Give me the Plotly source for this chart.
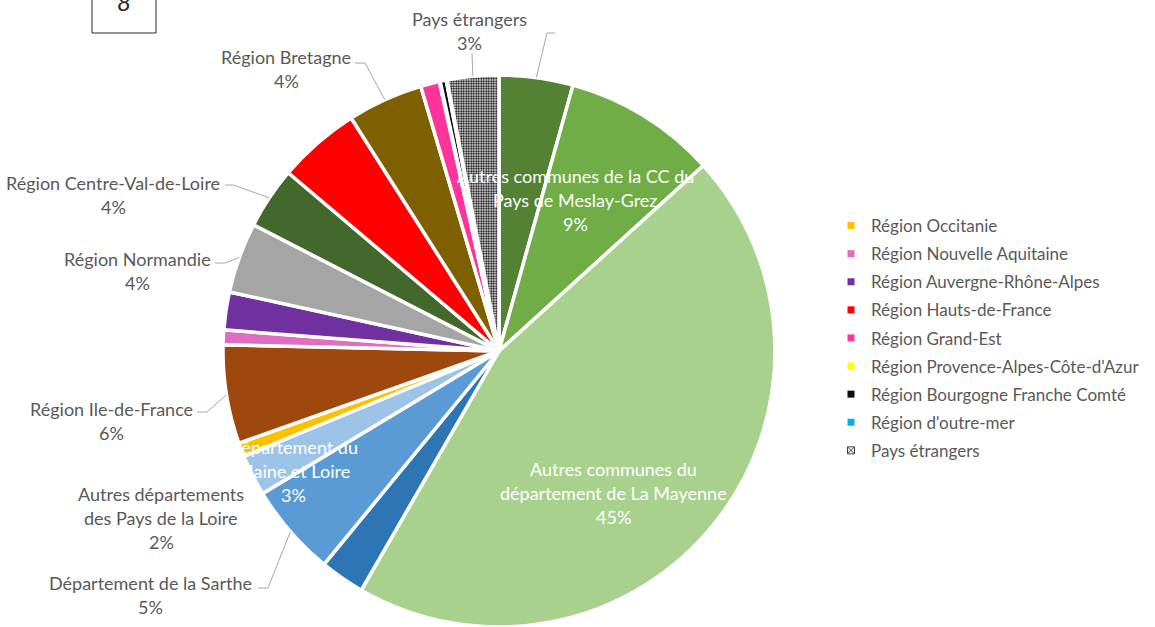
import math
import plotly.graph_objects as go

# ---- data -------------------------------------------------------------
labels = [
    "Commune",
    "Autres communes de la CC du Pays de Meslay-Grez",
    "Autres communes du département de La Mayenne",
    "Département du Maine et Loire",
    "Département de la Sarthe",
    "Autres départements des Pays de la Loire",
    "Région Occitanie",
    "Région Ile-de-France",
    "Région Nouvelle Aquitaine",
    "Région Auvergne-Rhône-Alpes",
    "Région Normandie",
    "Région Centre-Val-de-Loire",
    "Région Hauts-de-France",
    "Région Bretagne",
    "Région Grand-Est",
    "Région Provence-Alpes-Côte-d'Azur",
    "Région Bourgogne Franche Comté",
    "Région d'outre-mer",
    "Pays étrangers",
]
values = [4.3, 8.9, 44.8, 2.6, 5.4, 2.4, 0.8, 5.75, 0.86, 2.2,
          4.1, 3.6, 4.8, 4.4, 1.1, 0.05, 0.35, 0.05, 3.0]
colors = ["#548235", "#70AD47", "#A9D18E", "#2E75B6", "#5B9BD5", "#9DC3E6",
          "#FFC000", "#9E480E", "#E06EC0", "#7030A0", "#A5A5A5", "#43682B",
          "#FF0000", "#7F6000", "#FF3399", "#FFFF00", "#0D0D0D", "#00B0F0",
          "#FFFFFF"]
legend_items = [6, 8, 9, 12, 14, 15, 16, 17, 18]

# text lines of the slice labels (the percentage line is appended from the values)
label_lines = {
    1: ["Autres communes de la CC du", "Pays de Meslay-Grez"],
    2: ["Autres communes du", "département de La Mayenne"],
    3: ["Département du", "Maine et Loire"],
    4: ["Département de la Sarthe"],
    5: ["Autres départements", "des Pays de la Loire"],
    7: ["Région Ile-de-France"],
    10: ["Région Normandie"],
    11: ["Région Centre-Val-de-Loire"],
    13: ["Région Bretagne"],
    18: ["Pays étrangers"],
}
inside = {1, 2, 3}

# ---- geometry ---------------------------------------------------------
W, H = 1155, 627
MT = 75
PH = H - MT
CX, CY, R = 499.0, MT + PH / 2.0, PH / 2.0


def px(x):
    return x / W


def py(y):
    return (H - y) / PH


total = sum(values)
pct = [round(v / total * 100) for v in values]


def mid_anchor(i):
    start = sum(values[:i]) / total * 360.0
    a = math.radians(start + values[i] / total * 360.0 / 2.0)
    return CX + R * math.sin(a), CY - R * math.cos(a)


# label placement (centre of first text line) and leader-line elbows
label_pos = {
    1: (575, 176), 2: (613, 469), 3: (293, 447),
    4: (150, 583), 5: (161, 494), 7: (111, 409), 10: (137, 259),
    11: (113, 183), 13: (286, 57), 18: (469, 19),
}
leaders = {
    0: [(555, 33), (547, 33)],
    4: [(258, 588), (268, 588)],
    7: [(197, 412), (207, 412)],
    10: [(215, 263), (225, 263)],
    11: [(225, 185), (233, 185)],
    13: [(355, 63), (365, 63)],
    18: [(472, 53)],
}

FONT = "Lato"
GREY = "#595959"

fig = go.Figure()

shapes_pat = [""] * len(values)
shapes_pat[18] = "."
fig.add_trace(go.Pie(
    labels=labels,
    values=values,
    sort=False,
    direction="clockwise",
    rotation=0,
    textinfo="none",
    textposition="inside",
    marker=dict(
        colors=colors,
        line=dict(color="white", width=3.5),
        pattern=dict(shape=shapes_pat, fgcolor="#000000", bgcolor="#FFFFFF",
                     size=2.5, solidity=0.5),
    ),
    domain=dict(x=[0, 2 * CX / W], y=[0, 1]),
    showlegend=False,
))

# legend entries
for k, i in enumerate(legend_items):
    if i == 18:
        mk = dict(symbol="square-x-open", size=7, color="#404040", line=dict(width=1))
    else:
        mk = dict(symbol="square", size=7, color=colors[i], line=dict(width=0))
    fig.add_trace(go.Scatter(
        x=[None], y=[None], mode="markers", name=labels[i],
        marker=mk, legendgroup=f"g{k}", showlegend=True,
    ))

annotations = []
for i, lines in label_lines.items():
    x0, y0 = label_pos[i]
    col = "white" if i in inside else GREY
    for j, t in enumerate(lines + [f"{pct[i]}%"]):
        annotations.append(dict(
            x=px(x0), y=py(y0 + 24 * j), xref="paper", yref="paper",
            text=t, showarrow=False, xanchor="center", yanchor="middle",
            font=dict(family=FONT, size=18, color=col),
        ))

# figure number box
annotations.append(dict(
    x=px(124), y=py(2), xref="paper", yref="paper", text="8",
    showarrow=False, xanchor="center", yanchor="middle",
    font=dict(family=FONT, size=24, color="#262626", style="italic"),
))

shapes = [dict(type="rect", xref="paper", yref="paper",
               x0=px(92), x1=px(156), y0=py(33), y1=py(-2),
               line=dict(color="#262626", width=1), fillcolor="rgba(0,0,0,0)")]

for i, pts in leaders.items():
    ax, ay = mid_anchor(i)
    path_pts = pts + [(ax, ay)]
    d = "M " + " L ".join(f"{px(x)} {py(y)}" for x, y in path_pts)
    shapes.append(dict(type="path", xref="paper", yref="paper", path=d,
                       line=dict(color="#A6A6A6", width=1)))

fig.update_layout(
    width=W, height=H,
    margin=dict(l=0, r=0, t=MT, b=0, autoexpand=False),
    paper_bgcolor="white", plot_bgcolor="white",
    xaxis=dict(visible=False), yaxis=dict(visible=False),
    annotations=annotations,
    shapes=shapes,
    legend=dict(
        x=px(831), y=py(208), xanchor="left", yanchor="top",
        font=dict(family=FONT, size=17, color=GREY),
        tracegroupgap=3, itemwidth=30, bgcolor="rgba(0,0,0,0)",
    ),
)

fig.write_html("out.html")
